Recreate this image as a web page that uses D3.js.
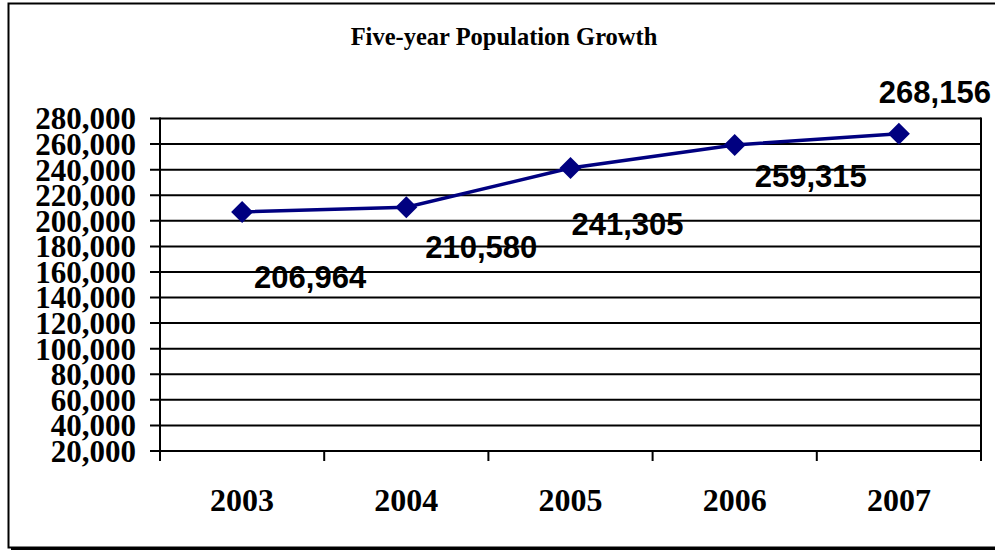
<!DOCTYPE html>
<html>
<head>
<meta charset="utf-8">
<script src="https://cdn.jsdelivr.net/npm/d3@7"></script>
<style>
  html, body { margin: 0; padding: 0; background: #fff; }
  svg { display: block; }
  .serif { font-family: "Liberation Serif", "Times New Roman", serif; font-weight: bold; }
  .sans { font-family: "Liberation Sans", Arial, sans-serif; font-weight: bold; }
</style>
</head>
<body>
<svg id="chart" width="995" height="553"></svg>
<script>
const years = ["2003", "2004", "2005", "2006", "2007"];
const population = [206964, 210580, 241305, 259315, 268156];
const yTicks = [20000, 40000, 60000, 80000, 100000, 120000, 140000, 160000,
  180000, 200000, 220000, 240000, 260000, 280000];
const title = "Five-year Population Growth";

// manual label offsets from each point (as placed in the original)
const labelOffsets = [[68, 65], [75, 40], [57, 56], [76, 31], [36, -41]];

const svg = d3.select("#chart");
const plotLeft = 160, plotRight = 981, plotTop = 118.5, plotBottom = 451;

// outer frame with shadow
svg.append("rect")
  .attr("x", 11).attr("y", 6).attr("width", 995).attr("height", 544)
  .attr("fill", "#000");
svg.append("rect")
  .attr("x", 8.5).attr("y", 3.5).attr("width", 995).attr("height", 544)
  .attr("fill", "#fff").attr("stroke", "#000").attr("stroke-width", 2);

svg.append("text")
  .attr("class", "serif")
  .attr("x", 504).attr("y", 45)
  .attr("text-anchor", "middle")
  .attr("font-size", "24.5px")
  .text(title);

const x = d3.scaleBand().domain(years).range([plotLeft, plotRight]).padding(0);
const y = d3.scaleLinear().domain([20000, 280000]).range([plotBottom, plotTop]);

// gridlines + left ticks
svg.append("g")
  .selectAll("line")
  .data(yTicks)
  .enter()
  .append("line")
  .attr("x1", plotLeft - 10).attr("x2", plotRight)
  .attr("y1", (d) => y(d)).attr("y2", (d) => y(d))
  .attr("stroke", "#000").attr("stroke-width", 2);

// y axis labels (they overlap in the original too)
svg.append("g")
  .selectAll("text")
  .data(yTicks)
  .enter()
  .append("text")
  .attr("class", "serif")
  .attr("x", 136)
  .attr("y", (d) => y(d))
  .attr("dy", "0.35em")
  .attr("text-anchor", "end")
  .attr("font-size", "31px")
  .text((d) => d3.format(",")(d));

// axis lines
svg.append("line")
  .attr("x1", plotLeft).attr("x2", plotLeft)
  .attr("y1", plotTop - 1).attr("y2", plotBottom + 10)
  .attr("stroke", "#000").attr("stroke-width", 2);
svg.append("line")
  .attr("x1", plotRight).attr("x2", plotRight)
  .attr("y1", plotTop - 1).attr("y2", plotBottom + 10)
  .attr("stroke", "#000").attr("stroke-width", 2);

// category ticks at band boundaries
svg.append("g")
  .selectAll("line")
  .data(years.slice(1))
  .enter()
  .append("line")
  .attr("x1", (d) => x(d)).attr("x2", (d) => x(d))
  .attr("y1", plotBottom).attr("y2", plotBottom + 10)
  .attr("stroke", "#000").attr("stroke-width", 2);

// x labels
svg.append("g")
  .selectAll("text")
  .data(years)
  .enter()
  .append("text")
  .attr("class", "serif")
  .attr("x", (d) => x(d) + x.bandwidth() / 2)
  .attr("y", 511)
  .attr("text-anchor", "middle")
  .attr("font-size", "32px")
  .text((d) => d);

const pts = years.map((yr, i) => [x(yr) + x.bandwidth() / 2, y(population[i])]);

svg.append("path")
  .attr("d", d3.line()(pts))
  .attr("fill", "none")
  .attr("stroke", "#000080")
  .attr("stroke-width", 3.5);

svg.append("g")
  .selectAll("path")
  .data(pts)
  .enter()
  .append("path")
  .attr("transform", (d) => `translate(${d[0]},${d[1]})`)
  .attr("d", "M0,-11L11,0L0,11L-11,0Z")
  .attr("fill", "#000080");

svg.append("g")
  .selectAll("text")
  .data(population)
  .enter()
  .append("text")
  .attr("class", "sans")
  .attr("x", (d, i) => pts[i][0] + labelOffsets[i][0])
  .attr("y", (d, i) => pts[i][1] + labelOffsets[i][1])
  .attr("dy", "0.35em")
  .attr("text-anchor", "middle")
  .attr("font-size", "31px")
  .text((d) => d3.format(",")(d));
</script>
</body>
</html>
